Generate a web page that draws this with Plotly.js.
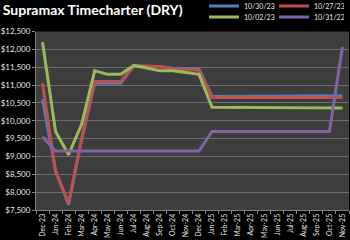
<!DOCTYPE html>
<html>
<head>
<meta charset="utf-8">
<script src="https://cdn.plot.ly/plotly-3.0.1.min.js"></script>
<style>html,body{margin:0;padding:0;background:#000;}#chart{width:350px;height:240px;}</style>
</head>
<body>
<div id="chart"></div>
<script>
const months = ["Dec-23","Jan-24","Feb-24","Mar-24","Apr-24","May-24","Jun-24","Jul-24","Aug-24","Sep-24","Oct-24","Nov-24",
  "Dec-24","Jan-25","Feb-25","Mar-25","Apr-25","May-25","Jun-25","Jul-25","Aug-25","Sep-25","Oct-25","Nov-25"];
const s_103023 = [10600, 8600, 7650, 9480, 11050, 11050, 11050, 11540, 11530, 11510, 11470, 11460,
  11450, 10680, 10680, 10680, 10680, 10680, 10680, 10685, 10690, 10690, 10695, 10700];
const s_102723 = [11050, 8575, 7700, 9500, 11100, 11100, 11100, 11540, 11530, 11520, 11450, 11430,
  11415, 10650, 10650, 10650, 10650, 10650, 10650, 10650, 10650, 10650, 10650, 10650];
const s_100223 = [12200, 9700, 9050, 9900, 11400, 11300, 11300, 11550, 11480, 11400, 11400, 11350,
  11300, 10380, 10380, 10370, 10360, 10360, 10360, 10360, 10360, 10360, 10360, 10360];
const s_103122 = [9550, 9150, 9150, 9150, 9150, 9150, 9150, 9150, 9150, 9150, 9150, 9150,
  9150, 9700, 9700, 9700, 9700, 9700, 9700, 9700, 9700, 9700, 9700, 12075];
const seriesNames = ["10/30/23","10/27/23","10/02/23","10/31/22"];
const colors = ["#4F81BD","#C0504D","#9BBB59","#8064A2"];

const FONT = "Lato, 'Open Sans', sans-serif";
const allSeries = [s_103023, s_102723, s_100223, s_103122];
const legendIds = ["legend","legend","legend2","legend2"];
const traces = allSeries.map((ys, i) => ({
  type: "scatter", mode: "lines", x: months, y: ys, name: seriesNames[i],
  line: {color: colors[i], width: 3}, legend: legendIds[i], hoverinfo: "skip"
}));

const legendCommon = {
  orientation: "h", xref: "container", yref: "container", xanchor: "left", yanchor: "middle",
  font: {family: FONT, size: 7, color: "#e6e6e6"}, bgcolor: "rgba(0,0,0,0)", itemwidth: 30,
  entrywidth: 25, entrywidthmode: "pixels",
  borderwidth: 0, tracegroupgap: 0, itemclick: false
};

const layout = {
  width: 350, height: 240,
  paper_bgcolor: "#000000", plot_bgcolor: "#3d3d3d",
  margin: {l: 36, r: 1, t: 24, b: 30, pad: 0},
  font: {family: FONT, color: "#e6e6e6"},
  title: {text: "<b>Supramax Timecharter (DRY)</b>", x: 0.008, xanchor: "left", xref: "container",
    y: 1 - 10/240, yanchor: "middle", yref: "container",
    font: {family: FONT, size: 14, color: "#ffffff"}},
  showlegend: true,
  legend: Object.assign({}, legendCommon, {x: 204/350, y: 1 - 6/240}),
  legend2: Object.assign({}, legendCommon, {x: 204/350, y: 1 - 17/240}),
  xaxis: {
    type: "category", range: [-0.5, 23.5], tickangle: -90, tickson: "boundaries",
    ticks: "outside", ticklen: 3, tickcolor: "#8a8a8a", showgrid: false,
    showline: true, linecolor: "#808080", linewidth: 1,
    tickfont: {family: FONT, size: 7, color: "#e6e6e6"}, fixedrange: true
  },
  yaxis: {
    range: [7500, 12500], dtick: 500, tick0: 7500, tickprefix: "$", tickformat: ",.0f",
    ticks: "outside", ticklen: 3, tickcolor: "#8a8a8a",
    showgrid: true, gridcolor: "#6e6e6e", gridwidth: 1, zeroline: false,
    showline: true, linecolor: "#808080", linewidth: 1,
    tickfont: {family: FONT, size: 8, color: "#e6e6e6"}, fixedrange: true
  }
};

Plotly.newPlot("chart", traces, layout, {displayModeBar: false, staticPlot: true});
</script>
</body>
</html>
